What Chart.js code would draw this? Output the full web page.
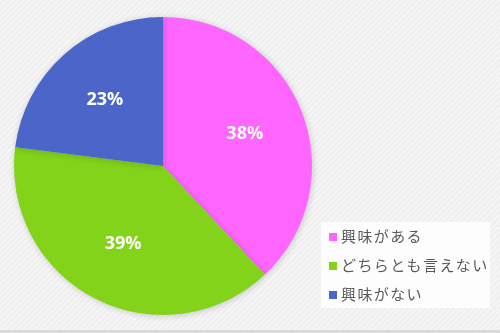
<!DOCTYPE html>
<html>
<head>
<meta charset="utf-8">
<script src="https://cdn.jsdelivr.net/npm/chart.js@4/dist/chart.umd.min.js"></script>
<style>
  html, body { margin: 0; padding: 0; }
  body {
    width: 500px; height: 333px; overflow: hidden; position: relative;
    background: repeating-linear-gradient(135deg, #f5f5f5 0px, #f5f5f5 2px, #efefef 2px, #efefef 4px);
  }
  #wrap { position: absolute; left: 0; top: 0; width: 500px; height: 333px; }
  #bottomline { position: absolute; left: 0; top: 330px; width: 500px; height: 3px; background: #dadada; }
  #legend {
    position: absolute; left: 321px; top: 222px; width: 169px; height: 86px;
    background: rgba(255,255,255,0.85);
    font-family: "Noto Sans CJK JP", sans-serif; font-size: 15px; color: #595959;
  }
  .item { position: absolute; left: 8px; height: 20px; line-height: 20px; white-space: nowrap; letter-spacing: 1.4px; }
  .box { display: inline-block; width: 8px; height: 8px; margin-right: 4px; vertical-align: 1px; }
</style>
</head>
<body>
<div id="wrap"><canvas id="chart" width="500" height="333"></canvas></div>
<div id="bottomline"></div>
<div id="legend"></div>
<script>
// answer categories and shares (percent)
const labels = ["興味がある", "どちらとも言えない", "興味がない"];
const values = [38, 39, 23];
const colors = ["#ff66ff", "#82d31a", "#4b66c8"];

// percent labels drawn inside each slice
const sliceLabels = {
  id: "sliceLabels",
  afterDatasetsDraw(chart) {
    const ctx = chart.ctx;
    const meta = chart.getDatasetMeta(0);
    ctx.save();
    ctx.fillStyle = "#ffffff";
    ctx.font = "bold 18px 'Open Sans', sans-serif";
    ctx.textAlign = "center";
    ctx.textBaseline = "middle";
    meta.data.forEach((arc, i) => {
      const p = arc.getProps(["x", "y", "startAngle", "endAngle", "outerRadius"], true);
      const mid = (p.startAngle + p.endAngle) / 2;
      const r = p.outerRadius * 0.59;
      ctx.fillText(values[i] + "%", p.x + Math.cos(mid) * r, p.y + Math.sin(mid) * r);
    });
    ctx.restore();
  }
};

// soft shadow behind the pie
const pieShadow = {
  id: "pieShadow",
  beforeDatasetsDraw(chart) {
    const ctx = chart.ctx;
    ctx.save();
    ctx.shadowColor = "rgba(0,0,0,0.18)";
    ctx.shadowBlur = 6;
    ctx.shadowOffsetX = 1;
    ctx.shadowOffsetY = 1;
  },
  afterDatasetsDraw(chart) {
    chart.ctx.restore();
  }
};

new Chart(document.getElementById("chart"), {
  type: "pie",
  data: {
    labels: labels,
    datasets: [{
      data: values,
      backgroundColor: colors,
      borderWidth: 0
    }]
  },
  options: {
    responsive: false,
    animation: false,
    layout: { padding: { top: 17, bottom: 18, left: 14, right: 188 } },
    plugins: {
      legend: { display: false },
      tooltip: { enabled: false }
    }
  },
  plugins: [pieShadow, sliceLabels]
});

// html legend
const legend = document.getElementById("legend");
labels.forEach((name, i) => {
  const el = document.createElement("div");
  el.className = "item";
  el.style.top = (4 + i * 29) + "px";
  el.innerHTML = '<span class="box" style="background:' + colors[i] + '"></span>' + name;
  legend.appendChild(el);
});
</script>
</body>
</html>
